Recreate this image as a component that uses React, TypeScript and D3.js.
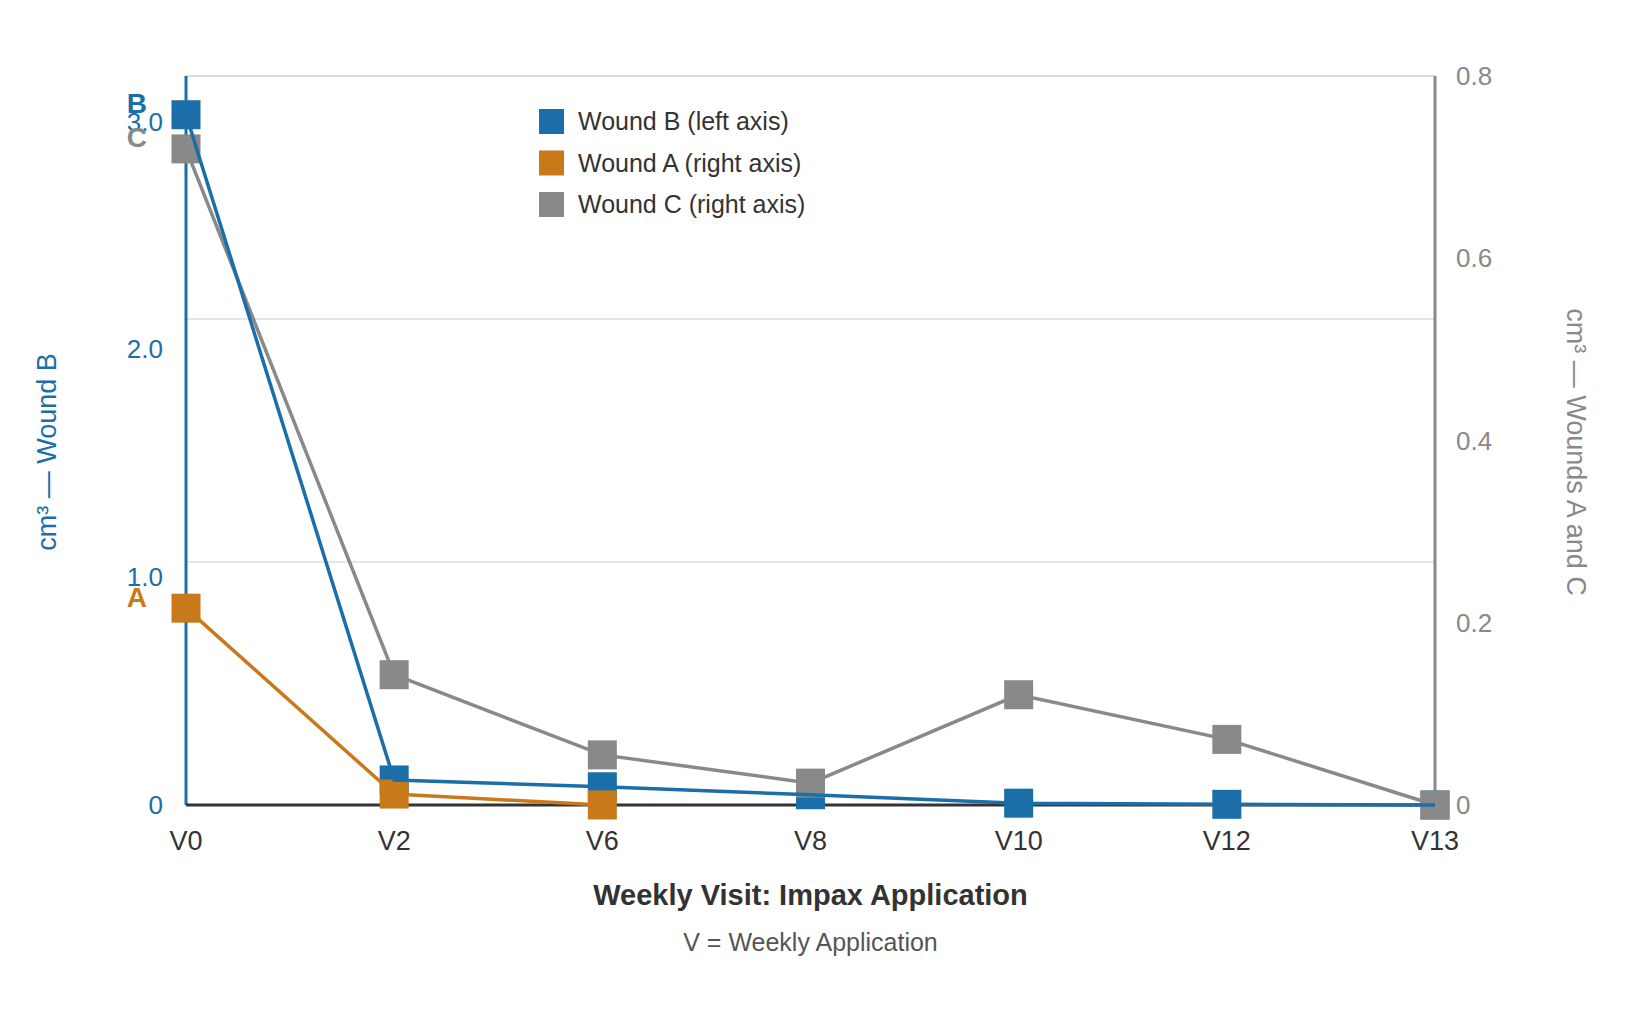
import React from "react";
import * as d3 from "d3";

const visits = ["V0", "V2", "V6", "V8", "V10", "V12", "V13"];
const woundB = [3.03, 0.11, 0.08, 0.045, 0.008, 0.003, 0]; // left axis
const woundA = [0.216, 0.012, 0, null, null, null, null]; // right axis
const woundC = [0.72, 0.143, 0.055, 0.024, 0.121, 0.072, 0]; // right axis
const leftTicks = [0, 1, 2, 3];
const rightTicks = [0, 0.2, 0.4, 0.6, 0.8];
const gridValues = [1, 2];

const BLUE = "#1b6ea8";
const ORANGE = "#c87a1a";
const GRAY = "#898989";
const FONT = "'Liberation Sans', Arial, sans-serif";

const W = 1625;
const H = 1021;
const x0 = 186, x1 = 1435, yTop = 76, yBot = 805;

export default function App() {
  const x = d3.scalePoint<string>().domain(visits).range([x0, x1]).padding(0);
  const yL = d3.scaleLinear().domain([0, 3.2]).range([yBot, yTop]);
  const yR = d3.scaleLinear().domain([0, 0.8]).range([yBot, yTop]);
  const yGrid = d3.scaleLinear().domain([0, 3]).range([yBot, yTop]);

  type P = { v: string; y: number };
  const mk = (vals: (number | null)[], s: d3.ScaleLinear<number, number>): P[] =>
    vals
      .map((d, i) => (d == null ? null : { v: visits[i], y: s(d) }))
      .filter((p): p is P => p !== null);

  const ptsB = mk(woundB, yL);
  const ptsA = mk(woundA, yR);
  const ptsC = mk(woundC, yR);

  const line = d3
    .line<P>()
    .x((p) => x(p.v) as number)
    .y((p) => p.y);

  const ms = 29;
  const markers = (pts: P[], color: string) =>
    pts.map((p, i) => (
      <rect
        key={i}
        x={(x(p.v) as number) - ms / 2}
        y={p.y - ms / 2}
        width={ms}
        height={ms}
        fill={color}
      />
    ));

  const legend = [
    { label: "Wound B (left axis)", color: BLUE },
    { label: "Wound A (right axis)", color: ORANGE },
    { label: "Wound C (right axis)", color: GRAY },
  ];

  return (
    <div style={{ position: "absolute", left: 0, top: 0, background: "#fff" }}>
      <svg width={W} height={H} style={{ display: "block", fontFamily: FONT }}>
        <rect x={0} y={0} width={W} height={H} fill="#fff" />
        {/* grid */}
        <line x1={x0} x2={x1} y1={yTop} y2={yTop} stroke="#cfcfcf" strokeWidth={1.5} />
        {gridValues.map((g) => (
          <line key={g} x1={x0} x2={x1} y1={yGrid(g)} y2={yGrid(g)} stroke="#dcdcdc" strokeWidth={1.5} />
        ))}
        {/* axes */}
        <line x1={x0} x2={x0} y1={yTop} y2={yBot} stroke={BLUE} strokeWidth={3} />
        <line x1={x1} x2={x1} y1={yTop} y2={yBot} stroke={GRAY} strokeWidth={3} />
        <line x1={x0} x2={x1} y1={yBot} y2={yBot} stroke="#333" strokeWidth={3} />

        {/* left ticks */}
        {leftTicks.map((t) => (
          <text key={t} x={163} y={yL(t)} dy="0.35em" textAnchor="end" fill={BLUE} fontSize={26}>
            {t === 0 ? "0" : d3.format(".1f")(t)}
          </text>
        ))}
        {/* right ticks */}
        {rightTicks.map((t) => (
          <text key={t} x={1456} y={yR(t)} dy="0.35em" textAnchor="start" fill={GRAY} fontSize={26}>
            {t === 0 ? "0" : d3.format(".1f")(t)}
          </text>
        ))}
        {/* x ticks */}
        {visits.map((v) => (
          <text key={v} x={x(v) as number} y={841} dy="0.35em" textAnchor="middle" fill="#333" fontSize={27}>
            {v}
          </text>
        ))}

        {/* markers */}
        {markers(ptsB, BLUE)}
        {markers(ptsA, ORANGE)}
        {markers(ptsC, GRAY)}
        {/* lines */}
        <path d={line(ptsC) || ""} fill="none" stroke={GRAY} strokeWidth={3.5} />
        <path d={line(ptsA) || ""} fill="none" stroke={ORANGE} strokeWidth={3.5} />
        <path d={line(ptsB) || ""} fill="none" stroke={BLUE} strokeWidth={3.5} />

        {/* series labels */}
        <text x={147} y={ptsB[0].y - 12} dy="0.35em" textAnchor="end" fill={BLUE} fontSize={28} fontWeight="bold">B</text>
        <text x={147} y={ptsC[0].y - 12} dy="0.35em" textAnchor="end" fill={GRAY} fontSize={28} fontWeight="bold">C</text>
        <text x={147} y={ptsA[0].y - 11} dy="0.35em" textAnchor="end" fill={ORANGE} fontSize={28} fontWeight="bold">A</text>

        {/* legend */}
        {legend.map((l, i) => (
          <g key={l.label} transform={`translate(539, ${121.5 + i * 41.5})`}>
            <rect x={0} y={-12.5} width={25} height={25} fill={l.color} />
            <text x={39} y={0} dy="0.35em" fill="#333" fontSize={25}>{l.label}</text>
          </g>
        ))}

        {/* axis titles */}
        <text x={(x0 + x1) / 2} y={895} dy="0.35em" textAnchor="middle" fill="#333" fontSize={29} fontWeight="bold">
          Weekly Visit: Impax Application
        </text>
        <text x={(x0 + x1) / 2} y={942} dy="0.35em" textAnchor="middle" fill="#555" fontSize={25}>
          V = Weekly Application
        </text>
        <text
          transform={`translate(47, 452) rotate(-90)`}
          dy="0.35em"
          textAnchor="middle"
          fill={BLUE}
          fontSize={27}
        >
          cm³ — Wound B
        </text>
        <text
          transform={`translate(1576, 452) rotate(90)`}
          dy="0.35em"
          textAnchor="middle"
          fill={GRAY}
          fontSize={27}
        >
          cm³ — Wounds A and C
        </text>
      </svg>
    </div>
  );
}
